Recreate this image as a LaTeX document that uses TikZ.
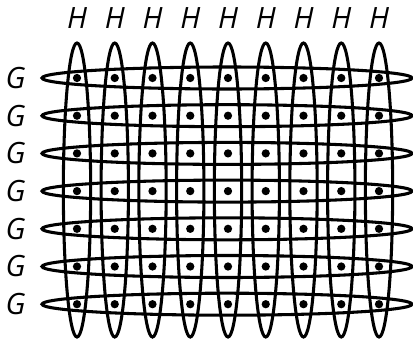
\documentclass[tikz,border=0pt]{standalone}
\usepackage{fontspec}
\setmainfont{Open Sans}
\usepackage{tikz}
\usetikzlibrary{shapes.geometric}

\begin{document}
\begin{tikzpicture}[
  x=0.75pt, y=-0.75pt,
  vloop/.style={
    draw, ellipse, line width=2.3pt, inner sep=0pt,
    minimum width=20.5pt, minimum height=220.5pt
  },
  hloop/.style={
    draw, ellipse, line width=2.3pt, inner sep=0pt,
    minimum width=277.5pt, minimum height=16.5pt
  },
  pt/.style={
    circle, fill=black, inner sep=0pt, minimum size=6.2pt
  },
  lab/.style={
    font=\fontsize{22}{26}\selectfont\itshape, inner sep=0pt
  }
]
\useasboundingbox (0,0) rectangle (413,339);

% --- etykiety kolumn i wierszy ---
\foreach \i in {1,...,9}
  \node[lab] (h\i) at ({77+37.75*(\i-1)},18) {H};
\foreach \j in {1,...,7}
  \node[lab] (g\j) at (15.5,{78+37.7*(\j-1)}) {G};

% --- petle pionowe ---
\foreach \i in {1,...,9}
  \node[vloop] (col\i) at ({77+37.75*(\i-1)},190) {};

% --- petle poziome ---
\foreach \j in {1,...,7}
  \node[hloop] (row\j) at (227,{78+37.7*(\j-1)}) {};

% --- punkty ---
\foreach \i in {1,...,9}
  \foreach \j in {1,...,7}
    \node[pt] (p\i\j) at ({77+37.75*(\i-1)},{78+37.7*(\j-1)}) {};

\end{tikzpicture}
\end{document}
